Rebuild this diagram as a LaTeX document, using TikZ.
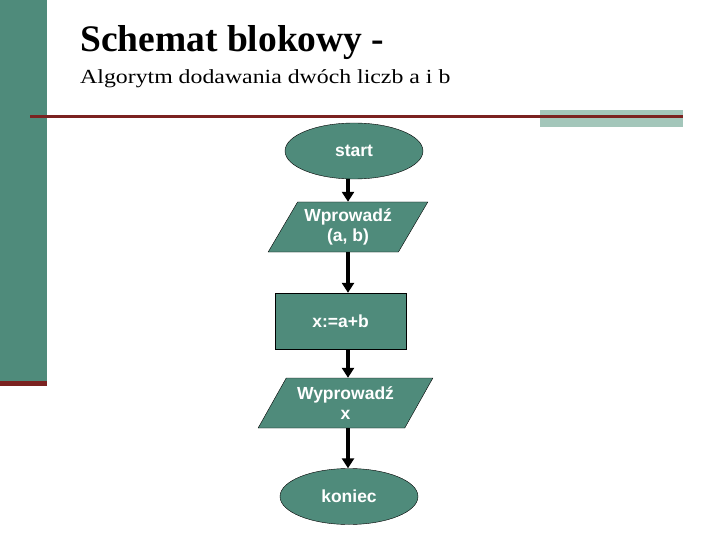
\documentclass[tikz,border=0pt]{standalone}
\usepackage{fontspec}
\setmainfont{Liberation Serif}
\newfontfamily\boxfont{Liberation Sans}
\usepackage{tikz}
\usetikzlibrary{arrows.meta,positioning,shapes.geometric}
\definecolor{slidegreen}{HTML}{4F8B7B}
\definecolor{slidered}{HTML}{7B2220}
\definecolor{slidepale}{HTML}{A3C6BA}

\begin{document}
\begin{tikzpicture}[
  x=1pt, y=1pt,
  node distance=23pt,
  shp/.style={draw, fill=slidegreen, text=white, align=center, inner sep=0pt,
              font=\boxfont\bfseries\fontsize{17.5}{20}\selectfont},
  term/.style={shp, ellipse, minimum width=138pt, minimum height=56pt},
  io/.style={shp, trapezium, trapezium left angle=55, trapezium right angle=125,
             trapezium stretches=true, minimum width=160pt, minimum height=50pt},
  proc/.style={shp, rectangle, minimum width=131pt, minimum height=56pt},
  arr/.style={-{Triangle[length=10pt,width=12pt]}, line width=3.8pt}
]
\useasboundingbox (0,0) rectangle (720,-540);

% slide decoration
\fill[slidegreen] (0,0) rectangle (47,-381);
\fill[slidered] (0,-381) rectangle (47,-386);
\fill[slidepale] (540,-110) rectangle (683,-127);
\draw[slidered, line width=3pt] (30,-117) -- (683,-117);

\node[anchor=base west, inner sep=0pt, font=\bfseries\fontsize{37.5}{40}\selectfont]
  (title) at (80,-52) {Schemat blokowy -};
\node[anchor=base west, inner sep=0pt, xscale=1.19, font=\fontsize{20}{24}\selectfont]
  (subtitle) at (80,-84) {Algorytm dodawania dwóch liczb a i b};

% flowchart
\node[term] (start) at (354,-151) {start};
\node[io] (input) at (348,-227) {Wprowadź\\(a, b)};
\node[proc] (sum) at (340.5,-321) {x:=a+b};
\node[io, minimum width=175pt] (output) at (345.5,-403) {Wyprowadź\\x};
\node[term] (stop) at (349,-496.5) {koniec};

\draw[arr] (start.south -| input) -- (input);
\draw[arr] (input) -- (input |- sum.north);
\draw[arr] (sum.south -| input) -- (input |- output.north);
\draw[arr] (output.south -| input) -- (input |- stop.north);
\end{tikzpicture}
\end{document}
